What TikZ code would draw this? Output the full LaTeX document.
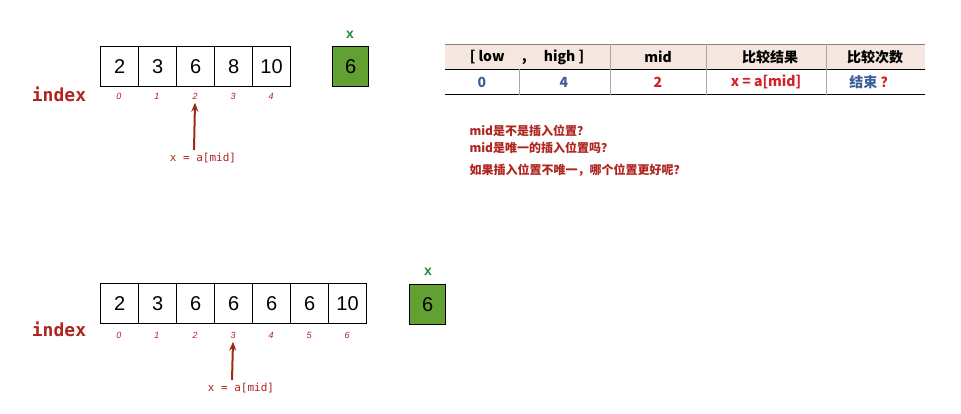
\documentclass[tikz,border=0pt]{standalone}
\usepackage{fontspec}
\setmainfont{Liberation Sans}
\newfontfamily\cjk{Noto Sans CJK SC}
\newfontfamily\mono{DejaVu Sans Mono}
\usetikzlibrary{arrows.meta}
\definecolor{dred}{HTML}{B0241F}
\definecolor{arr}{HTML}{9C2A14}
\definecolor{gfill}{HTML}{62A032}
\definecolor{gtxt}{HTML}{1E8C3C}
\definecolor{hdr}{HTML}{F5E7E0}
\definecolor{blu}{HTML}{3B5F9A}
\definecolor{tred}{HTML}{D42027}
\begin{document}
\begin{tikzpicture}[x=1pt,y=-1pt,
 cell/.style={draw,line width=1.2pt,minimum width=38pt,minimum height=40pt,inner sep=0,font=\fontsize{20}{20}\selectfont,anchor=north west},
 xbox/.style={draw,line width=1.2pt,fill=gfill,minimum width=36pt,minimum height=40pt,inner sep=0,font=\fontsize{20}{20}\selectfont,anchor=north west},
 idx/.style={text=dred,font=\fontsize{9}{9}\selectfont\itshape},
 lbl/.style={text=dred,font=\fontsize{18}{18}\selectfont\bfseries\mono},
 arrw/.style={-{Stealth[length=9pt,width=7pt]},line width=2pt,draw=arr},
 eq/.style={text=dred,font=\fontsize{11}{11}\selectfont\mono},
 th/.style={font=\fontsize{14}{14}\selectfont\bfseries\cjk},
 td/.style={font=\fontsize{14}{14}\selectfont\bfseries\cjk},
 note/.style={text=dred,font=\fontsize{12}{12}\selectfont\cjk\bfseries,anchor=west}]
\useasboundingbox (0,0) rectangle (961,414);
% top array
\foreach \v [count=\i from 0] in {2,3,6,8,10}{
 \node[cell] (a\i) at (100+38*\i,46) {\v};
 \node[idx] (ia\i) at (119+38*\i,96) {\i};}
\node[xbox] (xa) at (332,46) {6};
\node[text=gtxt,font=\bfseries\fontsize{14}{14}\selectfont] (xla) at (350,35) {x};
\node[lbl] (inda) at (59,94) {index};
\node[eq] (ma) at (203,158) {x = a[mid]};
\coordinate (pa) at (194,150);
\draw[arrw] (pa) -- (ia2.south);
% bottom array
\foreach \v [count=\i from 0] in {2,3,6,6,6,6,10}{
 \node[cell] (b\i) at (100+38*\i,283) {\v};
 \node[idx] (ib\i) at (119+38*\i,335) {\i};}
\node[xbox] (xb) at (409,284) {6};
\node[text=gtxt,font=\bfseries\fontsize{14}{14}\selectfont] (xlb) at (428,272) {x};
\node[lbl] (indb) at (59,329) {index};
\node[eq] (mb) at (241,388) {x = a[mid]};
\coordinate (pb) at (232,380);
\draw[arrw] (pb) -- (ib3.south);
% table
\fill[hdr] (445,44) rectangle (925,69);
\draw[line width=0.5pt,gray] (445,44) -- (925,44);
\draw[line width=0.8pt] (445,69) -- (925,69);
\draw[line width=1pt] (445,95) -- (925,95);
\foreach \xx in {610,706,826}{\draw[gray!70,line width=0.8pt] (\xx,44) -- (\xx,95);}
\draw[gray!70,line width=0.8pt] (519,69) -- (519,95);
\node[th] (h1) at (527,57) {[ low \quad , \quad high ]};
\node[th] (h2) at (658,57) {mid};
\node[th] (h3) at (770,57) {比较结果};
\node[th] (h4) at (875,57) {比较次数};
\node[td,text=blu] (d1) at (482,82) {0};
\node[td,text=blu] (d2) at (564,82) {4};
\node[td,text=tred] (d3) at (658,82) {2};
\node[td,text=tred] (d4) at (766,82) {x = a[mid]};
\node[td] (d5) at (872,82) {\textcolor{blu}{结束}\ \textcolor{tred}{？}};
% notes
\node[note] (n1) at (466,131) {mid是不是插入位置？};
\node[note] (n2) at (466,148) {mid是唯一的插入位置吗？};
\node[note] (n3) at (466,170) {如果插入位置不唯一，哪个位置更好呢？};
\end{tikzpicture}
\end{document}
